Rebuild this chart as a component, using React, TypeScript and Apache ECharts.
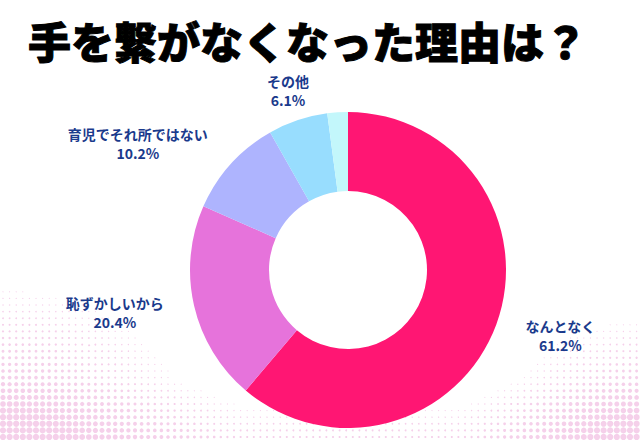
import React, { useEffect, useRef } from "react";
import * as echarts from "echarts";

const titleText = "手を繋がなくなった理由は？";
const categories = ["なんとなく", "恥ずかしいから", "育児でそれ所ではない", "その他", "無回答"];
const values = [61.2, 20.4, 10.2, 6.1, 2.1];
const sliceColors = ["#FF1673", "#E673DB", "#AEB4FE", "#98DDFE", "#C3F7FB"];
const hiddenLabels = [false, false, false, false, true];
const centeredLabels = [false, false, false, true, false];

const W = 640;
const H = 440;

function buildDots() {
  const dots: any[] = [];
  const step = 6.6;
  for (let y = H - 3; y > 200; y -= step) {
    for (let x = 3; x < W; x += step) {
      const dL = Math.sqrt((x / 250) ** 2 + ((H - y) / 195) ** 2);
      const dR = Math.sqrt(((W - x) / 185) ** 2 + ((H - y) / 155) ** 2);
      const dB = (H - y) / 60;
      let r =
        3.1 * Math.pow(Math.max(0, 1 - dL), 1.25) +
        3.0 * Math.pow(Math.max(0, 1 - dR), 1.25) +
        1.1 * Math.max(0, 1 - dB);
      r = Math.min(r, 3.1);
      if (r < 0.45) continue;
      dots.push({
        type: "circle",
        silent: true,
        z: 0,
        shape: { cx: x, cy: y, r },
        style: { fill: "#F5D0EA" },
      });
    }
  }
  return dots;
}

export default function App() {
  const ref = useRef<HTMLDivElement>(null);
  useEffect(() => {
    if (!ref.current) return;
    const chart = echarts.init(ref.current, undefined, { renderer: "svg" });
    const data = categories.map((name, i) => ({
      name,
      value: values[i],
      itemStyle: { color: sliceColors[i] },
      label: { show: !hiddenLabels[i] },
    }));
    chart.setOption({
      animation: false,
      backgroundColor: "#ffffff",
      graphic: [
        ...buildDots(),
        {
          type: "text",
          x: 28,
          y: 40,
          z: 10,
          style: {
            text: titleText,
            fill: "#000000",
            stroke: "#000000",
            lineWidth: 1,
            fontSize: 43,
            lineHeight: 43,
            fontWeight: 900,
            fontFamily: "'Noto Sans CJK JP', sans-serif",
            verticalAlign: "middle",
            align: "left",
          },
        },
      ],
      series: [
        {
          type: "pie",
          center: [348, 270],
          radius: [79, 158],
          startAngle: 90,
          clockwise: true,
          avoidLabelOverlap: false,
          emphasis: { disabled: true },
          label: {
            show: true,
            position: "outside",
            distanceToLabelLine: 0,
            formatter: (p: any) => `{c|${p.name}}\n{c|${p.value.toFixed(1)}%}`,
            rich: {
              c: {
                align: "center",
                fontSize: 14,
                fontWeight: "bold",
                color: "#1A3A8C",
                lineHeight: 19,
                fontFamily: "'Noto Sans CJK JP', sans-serif",
              },
            },
          },
          labelLine: { show: false, length: 31, length2: 0 },
          labelLayout: (p: any) =>
            centeredLabels[p.dataIndex] ? { dx: p.labelRect.width / 2 } : {},
          data,
        },
      ],
    });
    return () => chart.dispose();
  }, []);
  return (
    <div
      ref={ref}
      style={{ position: "absolute", left: 0, top: 0, width: W, height: H }}
    />
  );
}
